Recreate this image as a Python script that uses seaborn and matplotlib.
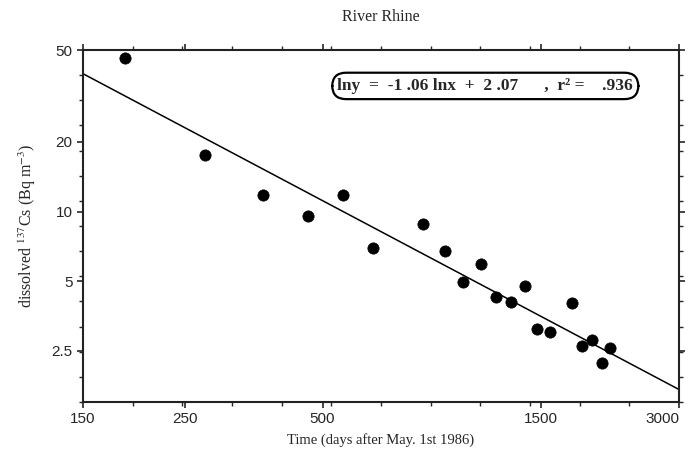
import numpy as np
import pandas as pd
import matplotlib
matplotlib.use("Agg")
import matplotlib.pyplot as plt
import matplotlib.transforms as mtransforms
import seaborn as sns

# days after 1 May 1986 and dissolved 137Cs (Bq m-3)
days = [185, 277, 371, 464, 555, 645, 829, 924, 1012, 1108,
        1194, 1290, 1384, 1472, 1567, 1750, 1840, 1935, 2035, 2120]
cs137 = [46.0, 17.6, 11.8, 9.6, 11.8, 6.97, 8.85, 6.72, 4.96, 5.95,
         4.26, 4.08, 4.75, 3.10, 3.01, 4.02, 2.63, 2.78, 2.21, 2.56]

# regression line as drawn (ln y = slope * ln x + intercept)
fit_slope = -1.05
fit_intercept = 8.937

x_ticks = [150, 250, 500, 1500, 3000]
y_ticks = [2.5, 5, 10, 20, 50]
y_ticklabels = ["2.5", "5", "10", "20", "50"]

df = pd.DataFrame({"days": days, "cs": cs137})

sns.set_style("ticks")
plt.rcParams["font.family"] = ["Liberation Serif", "DejaVu Serif"]
plt.rcParams["mathtext.fontset"] = "stix"

fig = plt.figure(figsize=(6.9, 4.51), dpi=100)
ax = fig.add_axes([0.1203, 0.1086, 0.8637, 0.7805])

xl = np.geomspace(150, 3000, 60)
line_df = pd.DataFrame({"days": xl, "cs": np.exp(fit_slope * np.log(xl) + fit_intercept)})
sns.lineplot(data=line_df, x="days", y="cs", ax=ax, color="black", linewidth=1.1)
sns.scatterplot(data=df, x="days", y="cs", ax=ax, color="black", s=66,
                edgecolor="black", linewidth=0.5, zorder=3)

ax.set(xscale="log", yscale="log")
ax.set_xlim(150, 3000)
ax.set_ylim(1.5, 50)

ax.set_xticks(x_ticks)
ax.set_xticklabels([str(t) for t in x_ticks])
ax.set_yticks(y_ticks)
ax.set_yticklabels(y_ticklabels)
ax.set_xticks(np.geomspace(150, 3000, 13), minor=True)
ax.set_yticks(np.geomspace(1.5, 50, 15), minor=True)
ax.xaxis.set_minor_formatter(matplotlib.ticker.NullFormatter())
ax.yaxis.set_minor_formatter(matplotlib.ticker.NullFormatter())

for lab in ax.get_xticklabels() + ax.get_yticklabels():
    lab.set_fontfamily("Liberation Sans")
    lab.set_fontsize(11)

# keep the last x label inside the picture
last = ax.get_xticklabels()[-1]
last.set_horizontalalignment("right")
last.set_transform(last.get_transform() + mtransforms.ScaledTranslation(0.1, 0, fig.dpi_scale_trans))

ax.tick_params(which="major", length=4, width=1.2, top=True, right=True, direction="out")
ax.tick_params(which="minor", length=3, width=1.0, top=True, right=True, direction="out")
for sp in ax.spines.values():
    sp.set_linewidth(1.5)
    sp.set_color("#222222")

ax.set_title("River Rhine", fontsize=11.5, pad=21)
ax.set_xlabel("Time (days after May. 1st 1986)", fontsize=10.5, labelpad=5)
ax.set_ylabel("dissolved $^{137}$Cs (Bq m$^{-3}$)", fontsize=11.5, labelpad=10)

ax.text(0.675, 0.898, "lny  =  -1 .06 lnx  +  2 .07      ,  r² =    .936",
        transform=ax.transAxes, ha="center", va="center", fontsize=12.5,
        fontweight="bold",
        bbox=dict(boxstyle="round,pad=0.3,rounding_size=0.8", facecolor="white",
                  edgecolor="black", linewidth=1.6))

fig.savefig("out.png", dpi=100)
